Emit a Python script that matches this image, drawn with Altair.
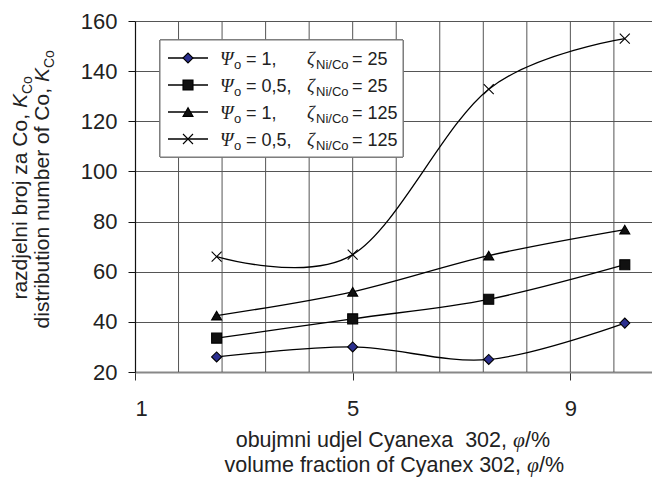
import altair as alt
import pandas as pd

# ---------------- data ----------------
PHI = [2.5, 5, 7.5, 10]
SERIES = ["psi1_z25", "psi05_z25", "psi1_z125", "psi05_z125"]
K_PSI1_Z25 = [26, 30, 25, 39.5]
K_PSI05_Z25 = [33.5, 41.2, 49, 62.8]
K_PSI1_Z125 = [42.5, 52, 66.4, 76.8]
K_PSI05_Z125 = [66, 66.8, 132.8, 153]
PSI_TEXT = ["= 1,", "= 0,5,", "= 1,", "= 0,5,"]
ZETA_TEXT = ["= 25", "= 25", "= 125", "= 125"]
X_LABELS = [1, 5, 9]
X_GRID = [1.8, 2.6, 3.4, 4.2, 5, 5.8, 6.6, 7.4, 8.2, 9, 9.8]
Y_TICKS = [20, 40, 60, 80, 100, 120, 140, 160]
YT1 = "razdjelni broj za Co,"
YT2 = "distribution number of Co,"
XT1 = "obujmni udjel Cyanexa\u00a0\u00a0302,"
XT2 = "volume fraction of Cyanex 302,"

# ---------------- styles ----------------
SHAPES = ["diamond", "square", "triangle-up", "M-1,-1L1,1M-1,1L1,-1"]
FILLS = ["#2b2f8f", "#111111", "#111111", "transparent"]
SANS = "Liberation Sans"
SERIF = "Liberation Serif"
W, H = 517, 351

rows = []
for s, vals in zip(SERIES, [K_PSI1_Z25, K_PSI05_Z25, K_PSI1_Z125, K_PSI05_Z125]):
    for p, k in zip(PHI, vals):
        rows.append({"series": s, "phi": p, "K": k})
df = pd.DataFrame(rows)

shape_scale = alt.Scale(domain=SERIES, range=SHAPES)
fill_scale = alt.Scale(domain=SERIES, range=FILLS)

x_enc = alt.X(
    "phi:Q",
    scale=alt.Scale(domain=[1, 10.5], nice=False, zero=False),
    axis=alt.Axis(
        values=X_LABELS, grid=False, format="d",
        tickSize=8, tickColor="#333", tickWidth=1,
        labelPadding=18, labelFontSize=22, labelFont=SANS, labelColor="#222",
        domainColor="#888", domainWidth=2, title=None,
    ),
)
y_enc = alt.Y(
    "K:Q",
    scale=alt.Scale(domain=[20, 160], nice=False, zero=False),
    axis=alt.Axis(
        values=Y_TICKS, grid=True, gridColor="#555", gridWidth=1,
        tickSize=7, tickColor="#111", labelPadding=11, labelFontSize=22,
        labelFont=SANS, labelColor="#222", domainColor="#111", domainWidth=1.2,
        title=None,
    ),
)

# vertical grid lines (every 0.8 units) through the x scale
vgrid = alt.Chart(pd.DataFrame({"phi": X_GRID})).mark_rule(
    color="#555", strokeWidth=1
).encode(x=x_enc, y=alt.value(0), y2=alt.value(H))

lines = alt.Chart(df).mark_line(
    interpolate="cardinal", color="black", strokeWidth=1.3
).encode(x="phi:Q", y=y_enc, detail="series:N", order="phi:Q")

points = alt.Chart(df).mark_point(
    opacity=1, stroke="black", strokeWidth=1.1, size=100
).encode(
    x="phi:Q", y="K:Q",
    shape=alt.Shape("series:N", scale=shape_scale, legend=None),
    fill=alt.Fill("series:N", scale=fill_scale, legend=None),
)

# ---------------- custom legend ----------------
LEG_X0, LEG_Y0, LEG_X1, LEG_Y1 = 25, 19, 268, 136
ROW0, ROW_H = 37, 27
leg = pd.DataFrame({
    "series": SERIES,
    "py": [ROW0 + i * ROW_H for i in range(4)],
    "psi": PSI_TEXT,
    "zeta": ZETA_TEXT,
})

box = alt.Chart(leg).mark_rect(
    fill="white", stroke="#777", strokeWidth=1
).encode(
    x=alt.value(LEG_X0), x2=alt.value(LEG_X1),
    y=alt.value(LEG_Y0), y2=alt.value(LEG_Y1),
)

leg_lines = alt.Chart(leg).mark_rule(color="black", strokeWidth=1.3).encode(
    x=alt.value(33), x2=alt.value(73),
    y=alt.Y("py:Q", scale=None, axis=None),
)
leg_pts = alt.Chart(leg).mark_point(
    opacity=1, stroke="black", strokeWidth=1.1, size=100
).encode(
    x=alt.value(53),
    y=alt.Y("py:Q", scale=None, axis=None),
    shape=alt.Shape("series:N", scale=shape_scale, legend=None),
    fill=alt.Fill("series:N", scale=fill_scale, legend=None),
)


def leg_text(field, xpix, dy, font, size, style="normal", const=None):
    base = alt.Chart(leg).mark_text(
        align="left", baseline="alphabetic", font=font, fontSize=size,
        fontStyle=style, dy=dy, color="#222",
    )
    txt = alt.value(const) if const is not None else alt.Text(f"{field}:N")
    return base.encode(
        x=alt.value(xpix), y=alt.Y("py:Q", scale=None, axis=None), text=txt
    )


leg_psi = leg_text(None, 85, 7, SERIF, 19, "italic", "\u03a8")
leg_o = leg_text(None, 99, 11, SANS, 13, const="o")
leg_psi_val = leg_text("psi", 111, 7, SANS, 18)
leg_zeta = leg_text(None, 172, 7, SERIF, 19, "italic", "\u03b6")
leg_nico = leg_text(None, 181, 11, SANS, 13, const="Ni/Co")
leg_zeta_val = leg_text("zeta", 217, 7, SANS, 18)

# ---------------- axis titles (text with sub/italics) ----------------
tdf = pd.DataFrame({"a": [0]})


def t(text, x, y, font=SANS, size=21, style="normal", align="left",
      angle=0, dx=0, dy=0):
    return alt.Chart(tdf).mark_text(
        text=text, font=font, fontSize=size, fontStyle=style, align=align,
        baseline="alphabetic", angle=angle, dx=dx, dy=dy, color="#222",
    ).encode(x=alt.value(x), y=alt.value(y))


# y title (rotated)
y1x, y1s = -108, 93
y2x, y2s = -86, 67
ytitle = [
    t(YT1, y1x, y1s, align="right", angle=270),
    t("K", y1x, y1s, style="italic", angle=270, dx=6),
    t("Co", y1x, y1s, size=14, angle=270, dx=20, dy=5),
    t(YT2, y2x, y2s, align="right", angle=270),
    t("K", y2x, y2s, style="italic", angle=270, dx=6),
    t("Co", y2x, y2s, size=14, angle=270, dx=20, dy=5),
]

# x title
XS = 21.5
x1s, x1y = 372, 426
x2s, x2y = 386, 451
xtitle = [
    t(XT1, x1s, x1y, size=XS, align="right"),
    t("\u03c6", x1s, x1y, font=SERIF, size=XS, style="italic", dx=6),
    t("/%", x1s, x1y, size=XS, dx=18),
    t(XT2, x2s, x2y, size=XS, align="right"),
    t("\u03c6", x2s, x2y, font=SERIF, size=XS, style="italic", dx=6),
    t("/%", x2s, x2y, size=XS, dx=18),
]

chart = alt.layer(
    vgrid, lines, points, box, leg_lines, leg_pts,
    leg_psi, leg_o, leg_psi_val, leg_zeta, leg_nico, leg_zeta_val,
    *ytitle, *xtitle,
).properties(
    width=W, height=H,
    autosize=alt.AutoSizeParams(type="none"),
    padding={"left": 127, "top": 13, "right": 0, "bottom": 106},
    background="white",
).configure_view(stroke=None)

chart.save("out.html", embed_options={"renderer": "svg", "actions": False})
